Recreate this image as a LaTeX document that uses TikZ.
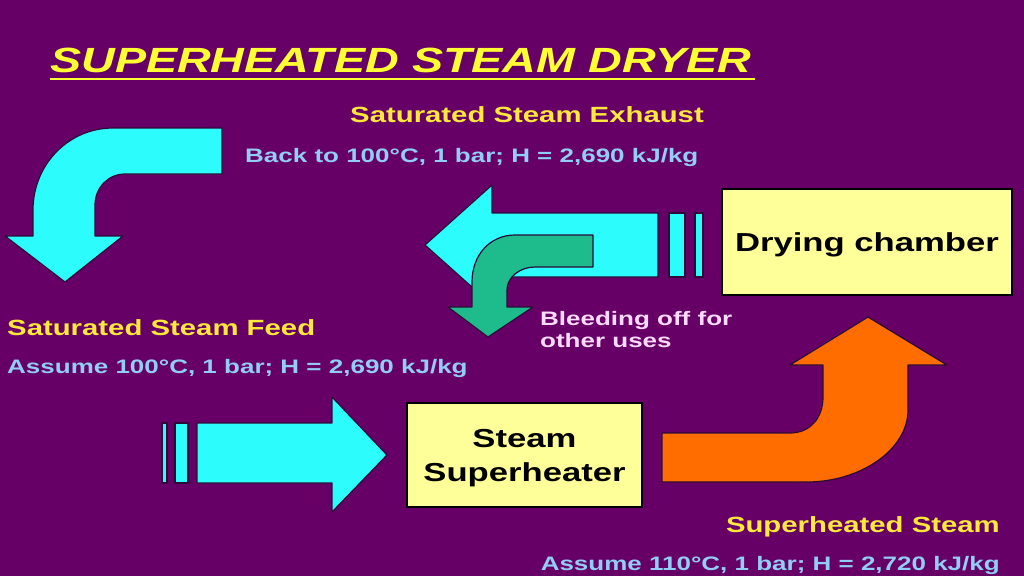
\documentclass[tikz,border=0pt]{standalone}
\usepackage{fontspec}
\setmainfont{Liberation Sans}
\usepackage{xcolor}
\usepackage{graphicx}
\definecolor{slidebg}{RGB}{102,0,102}
\definecolor{titleyellow}{RGB}{255,255,51}
\definecolor{labelyellow}{RGB}{255,232,60}
\definecolor{labelblue}{RGB}{145,205,245}
\definecolor{labelpink}{RGB}{255,218,255}
\definecolor{boxfill}{RGB}{255,255,153}
\definecolor{pipecyan}{RGB}{45,252,252}
\definecolor{pipegreen}{RGB}{30,188,140}
\definecolor{pipeorange}{RGB}{255,108,0}
\definecolor{pipeedge}{RGB}{45,10,55}
% the slide was stretched sideways, so the text is too
\newcommand{\wideout}[1]{\scalebox{1.333}[1]{#1}}
\tikzset{
  pipeline/.style={draw=pipeedge, line width=1.2pt, line join=round},
  unitbox/.style={draw=black, line width=1.5pt, fill=boxfill, inner sep=0pt, text depth=0pt,
    font=\bfseries\fontsize{26}{34}\selectfont},
  heading/.style={inner sep=0pt, anchor=base west, text=labelyellow, font=\bfseries\fontsize{22}{26}\selectfont},
  datanote/.style={inner sep=0pt, anchor=base west, text=labelblue, font=\bfseries\fontsize{19.5}{23}\selectfont},
}

\begin{document}
\begin{tikzpicture}[x=1pt,y=-1pt]
   \useasboundingbox[fill=slidebg] (0,0) rectangle (1024,576);
   % title
   \node[inner sep=0pt, anchor=base west, text=titleyellow,
     font=\bfseries\itshape\fontsize{35}{40}\selectfont] (title) at (50,72) {\wideout{SUPERHEATED STEAM DRYER}};
   \draw[titleyellow, line width=2.5pt] (50,79) -- (755,79);

   % exhaust out of the dryer
   \filldraw[pipeline, fill=pipecyan] (658,213) -- (492,213) -- (492,185) -- (425,245) -- (492,305) -- (492,277) -- (658,277) -- cycle;
   \filldraw[pipeline, fill=pipecyan] (669,213) rectangle (685,277);
   \filldraw[pipeline, fill=pipecyan] (695,213) rectangle (703,277);
   % bleeding off
   \filldraw[pipeline, fill=pipegreen] (593,235) -- (515,235) .. controls (490,235) and (472,255) .. (472,282)
     -- (472,307) -- (448,307) -- (488,337) -- (533,307) -- (507,307) -- (507,290)
     .. controls (507,277) and (520,267) .. (535,267) -- (593,267) -- cycle;
   % back round to the feed
   \filldraw[pipeline, fill=pipecyan] (222,128) -- (113,128) .. controls (68,128) and (33,165) .. (33,210)
     -- (33,236) -- (5,236) -- (65,282) -- (123,236) -- (95,236) -- (95,205)
     .. controls (95,188) and (108,174) .. (125,174) -- (222,174) -- cycle;
   % feed into the superheater
   \filldraw[pipeline, fill=pipecyan] (162,423) rectangle (167,483);
   \filldraw[pipeline, fill=pipecyan] (175,423) rectangle (188,483);
   \filldraw[pipeline, fill=pipecyan] (197,423) -- (332,423) -- (332,397) -- (387,455) -- (332,512) -- (332,483) -- (197,483) -- cycle;
   % superheated steam up to the dryer
   \filldraw[pipeline, fill=pipeorange] (662,482) -- (662,433) -- (790,433) .. controls (810,433) and (823,418) .. (823,397)
     -- (823,365) -- (790,365) -- (868,317) -- (947,365) -- (908,365) -- (908,410)
     .. controls (908,450) and (860,482) .. (807,482) -- cycle;

   % units
   \node[unitbox, minimum width=290pt, minimum height=106pt] (dryer) at (867,242) {\wideout{Drying chamber}};
   \node[unitbox, minimum width=235pt, minimum height=104pt, align=center] (heater) at (524.5,455)
     {\wideout{Steam}\\\wideout{Superheater}};

   % labels
   \node[heading] (exhaust) at (350,122) {\wideout{Saturated Steam Exhaust}};
   \node[datanote] (exhaustdata) at (245,162) {\wideout{Back to 100°C, 1 bar; H = 2,690 kJ/kg}};
   \node[heading] (feed) at (7,335) {\wideout{Saturated Steam Feed}};
   \node[datanote] (feeddata) at (7,373) {\wideout{Assume 100°C, 1 bar; H = 2,690 kJ/kg}};
   % base of a two line node sits on its last line
   \node[inner sep=0pt, anchor=base west, text=labelpink, align=left,
     font=\bfseries\fontsize{19.5}{22}\selectfont] (bleed) at (540,347) {\wideout{Bleeding off for}\\\wideout{other uses}};
   \node[heading, anchor=base east] (hot) at (1000,532) {\wideout{Superheated Steam}};
   \node[datanote, anchor=base east] (hotdata) at (1000,570) {\wideout{Assume 110°C, 1 bar; H = 2,720 kJ/kg}};
    \end{tikzpicture}
\end{document}
